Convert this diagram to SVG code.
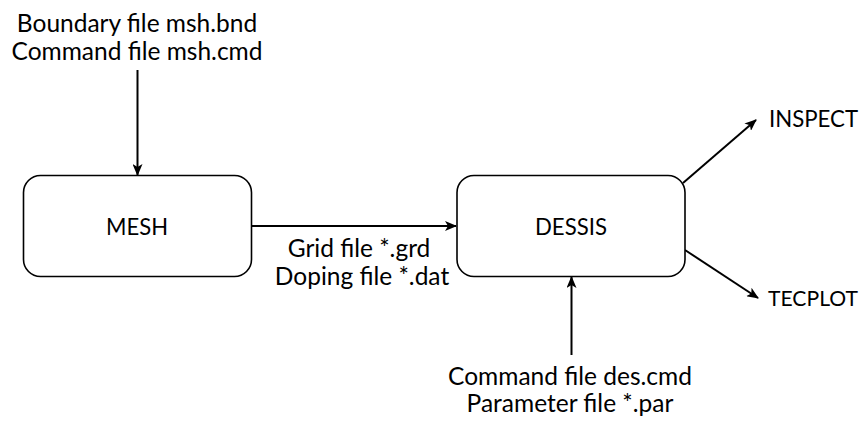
<svg xmlns="http://www.w3.org/2000/svg" width="866" height="421" viewBox="0 0 866 421">
<defs>
<style>
text{font-family:Lato,"Open Sans","Liberation Sans",sans-serif;font-size:24.5px;fill:#000;text-anchor:middle}
.cap{font-size:24px}
.box{fill:#fff;stroke:#000;stroke-width:1.6}
.edge{stroke:#000;stroke-width:2;fill:none;marker-end:url(#ah)}
</style>
<marker id="ah" viewBox="0 0 12 10" refX="11" refY="5" markerWidth="6" markerHeight="5" orient="auto" markerUnits="strokeWidth">
<path d="M0,0 L12,5 L0,10 L3,5 Z" fill="#000"/>
</marker>
</defs>
<rect width="866" height="421" fill="#fff"/>
<g id="connectors">
<line class="edge" x1="137.5" y1="70" x2="137.5" y2="175"/>
<line class="edge" x1="252" y1="226" x2="456" y2="226"/>
<line class="edge" x1="571.5" y1="355" x2="571.5" y2="277"/>
<line class="edge" x1="683" y1="183" x2="756" y2="120"/>
<line class="edge" x1="685" y1="250" x2="758" y2="298"/>
</g>
<g id="input-mesh">
<text x="137" y="32">Boundary file msh.bnd</text>
<text x="137" y="60">Command file msh.cmd</text>
</g>
<g id="mesh">
<rect class="box" x="23.5" y="175.5" width="228" height="101" rx="17"/>
<text class="cap" x="137" y="235" textLength="62" lengthAdjust="spacingAndGlyphs">MESH</text>
</g>
<g id="grid-label">
<text x="359" y="257">Grid file *.grd</text>
<text x="362" y="285">Doping file *.dat</text>
</g>
<g id="dessis">
<rect class="box" x="457" y="175.5" width="228" height="101" rx="17"/>
<text class="cap" x="571" y="235" textLength="72" lengthAdjust="spacingAndGlyphs">DESSIS</text>
</g>
<g id="input-dessis">
<text x="570" y="385">Command file des.cmd</text>
<text x="570" y="412">Parameter file *.par</text>
</g>
<g id="inspect">
<text class="cap" x="769" y="127" style="text-anchor:start" textLength="89" lengthAdjust="spacingAndGlyphs">INSPECT</text>
</g>
<g id="tecplot">
<text x="768" y="306" style="text-anchor:start;font-size:22px" textLength="90" lengthAdjust="spacingAndGlyphs">TECPLOT</text>
</g>
</svg>
